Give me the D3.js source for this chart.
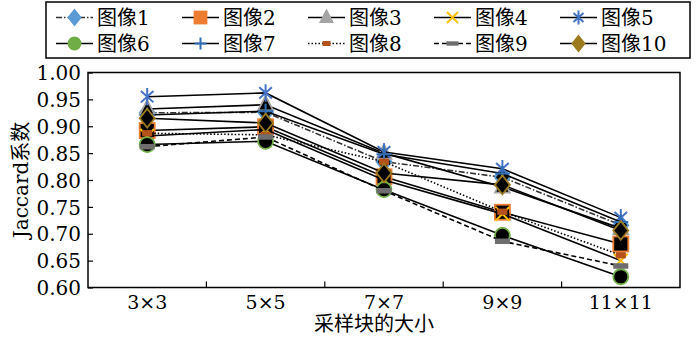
<!DOCTYPE html>
<html><head><meta charset="utf-8">
<script src="https://cdn.jsdelivr.net/npm/d3@7"></script>
<style>
html,body{margin:0;padding:0;background:#fff;}
svg text{font-family:"DejaVu Serif","Noto Sans CJK SC",serif;fill:#000;}
</style></head>
<body><svg id="c" width="700" height="338"></svg>
<script>
const categories = ["3×3","5×5","7×7","9×9","11×11"];
const seriesNames = ["图像1","图像2","图像3","图像4","图像5","图像6","图像7","图像8","图像9","图像10"];
const img1  = [0.925, 0.926, 0.834, 0.805, 0.716];
const img2  = [0.892, 0.899, 0.806, 0.740, 0.681];
const img3  = [0.932, 0.940, 0.850, 0.787, 0.710];
const img4  = [0.882, 0.894, 0.800, 0.737, 0.650];
const img5  = [0.955, 0.962, 0.852, 0.821, 0.730];
const img6  = [0.866, 0.872, 0.782, 0.697, 0.620];
const img7  = [0.921, 0.928, 0.848, 0.812, 0.722];
const img8  = [0.887, 0.884, 0.834, 0.741, 0.660];
const img9  = [0.862, 0.880, 0.780, 0.686, 0.640];
const img10 = [0.915, 0.906, 0.813, 0.791, 0.706];
const yTicks = [0.60,0.65,0.70,0.75,0.80,0.85,0.90,0.95,1.00];

const allValues = [img1,img2,img3,img4,img5,img6,img7,img8,img9,img10];
const styles = [
  {color:"#5b9bd5", shape:"diamond", dash:"6,2,1.5,2", lc:"#333"},
  {color:"#ed7d31", shape:"square", dash:null, lc:"#000"},
  {color:"#a5a5a5", shape:"triangle", dash:null, lc:"#000"},
  {color:"#ffc000", shape:"x", dash:null, lc:"#000"},
  {color:"#4472c4", shape:"star", dash:null, lc:"#000"},
  {color:"#70ad47", shape:"circle", dash:null, lc:"#000"},
  {color:"#2f6db5", shape:"plus", dash:null, lc:"#000"},
  {color:"#b5521b", shape:"rect", dash:"1.5,2", lc:"#000"},
  {color:"#6e6e6e", shape:"bar", dash:"5,3", lc:"#000"},
  {color:"#9c7a1e", shape:"diamond", dash:null, lc:"#000"}
];

const svg = d3.select("#c");
const m = {l:88, r:680, t:72.5, b:287.5};
const x = d3.scaleBand().domain(categories).range([m.l, m.r]).padding(0);
const y = d3.scaleLinear().domain([0.6, 1.0]).range([m.b, m.t]);

svg.append("rect").attr("x",m.l).attr("y",m.t).attr("width",m.r-m.l).attr("height",m.b-m.t)
  .attr("fill","none").attr("stroke","#000").attr("stroke-width",1.5);

const yAxis = d3.axisLeft(y).tickValues(yTicks).tickFormat(d3.format(".2f")).tickSizeInner(-5).tickSizeOuter(0).tickPadding(7);
const gy = svg.append("g").attr("transform",`translate(${m.l},0)`).call(yAxis);
gy.select(".domain").remove();
gy.selectAll("line").attr("stroke","#000").attr("stroke-width",1.2);
gy.selectAll("text").style("font-size","20px").attr("dy","0.36em");

const bounds = categories.slice(1).map(c => x(c));
svg.append("g").selectAll("line").data(bounds).join("line")
  .attr("x1",d=>d).attr("x2",d=>d).attr("y1",m.b).attr("y2",m.b-6)
  .attr("stroke","#000").attr("stroke-width",1.2);
const xAxis = d3.axisBottom(x).tickSize(0).tickPadding(6);
const gx = svg.append("g").attr("transform",`translate(0,${m.b})`).call(xAxis);
gx.select(".domain").remove();
gx.selectAll("text").style("font-size","19px").attr("dy","0.8em");

svg.append("text").attr("x",(m.l+m.r)/2 - 10).attr("y",331).attr("text-anchor","middle")
  .style("font-size","20px").text("采样块的大小");
svg.append("text").attr("transform","translate(28,180) rotate(-90)").attr("text-anchor","middle")
  .style("font-size","20px").text("Jaccard系数");

function marker(g, shape, cx, cy, color, fill, s) {
  const sw = 1.8;
  if (shape === "diamond") {
    g.append("path").attr("d",`M${cx},${cy-s*0.75}L${cx+s*0.6},${cy}L${cx},${cy+s*0.75}L${cx-s*0.6},${cy}Z`)
      .attr("fill",fill).attr("stroke",color).attr("stroke-width",sw);
  } else if (shape === "square") {
    g.append("rect").attr("x",cx-s*0.6).attr("y",cy-s*0.6).attr("width",s*1.2).attr("height",s*1.2)
      .attr("fill",fill).attr("stroke",color).attr("stroke-width",sw);
  } else if (shape === "triangle") {
    g.append("path").attr("d",`M${cx},${cy-s*0.7}L${cx+s*0.6},${cy+s*0.45}L${cx-s*0.6},${cy+s*0.45}Z`)
      .attr("fill",fill).attr("stroke",color).attr("stroke-width",sw);
  } else if (shape === "circle") {
    g.append("circle").attr("cx",cx).attr("cy",cy).attr("r",s*0.6)
      .attr("fill",fill).attr("stroke",color).attr("stroke-width",sw);
  } else if (shape === "x") {
    const a = s*0.55;
    g.append("path").attr("d",`M${cx-a},${cy-a}L${cx+a},${cy+a}M${cx-a},${cy+a}L${cx+a},${cy-a}`)
      .attr("stroke",color).attr("stroke-width",2).attr("fill","none");
  } else if (shape === "plus") {
    const a = s*0.6;
    g.append("path").attr("d",`M${cx-a},${cy}L${cx+a},${cy}M${cx},${cy-a}L${cx},${cy+a}`)
      .attr("stroke",color).attr("stroke-width",2).attr("fill","none");
  } else if (shape === "star") {
    const a = s*0.7, b = a*0.72;
    g.append("path").attr("d",`M${cx},${cy-a}L${cx},${cy+a}M${cx-b},${cy-a*0.65}L${cx+b},${cy+a*0.65}M${cx-b},${cy+a*0.65}L${cx+b},${cy-a*0.65}`)
      .attr("stroke",color).attr("stroke-width",2).attr("fill","none");
  } else if (shape === "rect") {
    g.append("rect").attr("x",cx-s*0.4).attr("y",cy-s*0.25).attr("width",s*0.8).attr("height",s*0.5)
      .attr("fill",color).attr("stroke","none");
  } else if (shape === "bar") {
    g.append("rect").attr("x",cx-s*0.6).attr("y",cy-s*0.22).attr("width",s*1.2).attr("height",s*0.44)
      .attr("fill",color).attr("stroke","none");
  }
}

const cxOf = c => x(c) + x.bandwidth()/2;
const line = d3.line().x((d,i)=>cxOf(categories[i])).y(d=>y(d));

allValues.forEach((vals, k) => {
  const st = styles[k];
  const g = svg.append("g");
  g.append("path").datum(vals).attr("d", line).attr("fill","none")
    .attr("stroke", st.lc).attr("stroke-width",1.6)
    .attr("stroke-dasharray", st.dash);
  vals.forEach((v,i) => {
    const fill = (st.shape==="rect"||st.shape==="bar") ? st.color : "#000";
    marker(g, st.shape, cxOf(categories[i]), y(v), st.color, fill, 12.5);
  });
});

const lg = svg.append("g");
lg.append("rect").attr("x",46).attr("y",2).attr("width",644).attr("height",56)
  .attr("fill","#fff").attr("stroke","#000").attr("stroke-width",1.5);
seriesNames.forEach((name,k) => {
  const col = k % 5, row = Math.floor(k/5);
  const lx = 56 + col*126, ly = 17.5 + row*26;
  const st = styles[k];
  lg.append("line").attr("x1",lx).attr("x2",lx+37).attr("y1",ly).attr("y2",ly)
    .attr("stroke", st.lc).attr("stroke-width",1.6).attr("stroke-dasharray", st.dash);
  marker(lg, st.shape, lx+18.5, ly, st.color, st.color, 10);
  lg.append("text").attr("x",lx+41).attr("y",ly).attr("dy","0.36em")
    .style("font-size","20px").text(name);
});
</script></body></html>
